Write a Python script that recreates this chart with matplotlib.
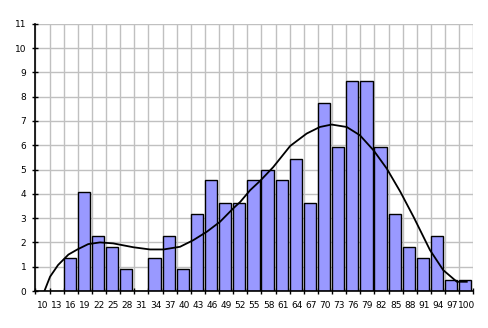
import numpy as np
import matplotlib
matplotlib.use('Agg')
import matplotlib.pyplot as plt

# histogram categories and bar heights (percent)
scores = [10, 13, 16, 19, 22, 25, 28, 31, 34, 37, 40, 43, 46, 49, 52, 55,
          58, 61, 64, 67, 70, 73, 76, 79, 82, 85, 88, 91, 94, 97, 100]
percent = [0, 0, 1.36, 4.09, 2.27, 1.82, 0.91, 0, 1.36, 2.27, 0.91, 3.18,
           4.55, 3.64, 3.64, 4.55, 5.0, 4.55, 5.45, 3.64, 7.73, 5.91, 8.64,
           8.64, 5.91, 3.18, 1.82, 1.36, 2.27, 0.45, 0.45]

# density curve
curve_x = [10.4, 11.6, 13.3, 15.5, 17.4, 19.7, 22.2, 25.0, 29.3, 32.8, 35.7,
           39.2, 42.0, 44.9, 47.7, 50.5, 52.0, 54.1, 56.2, 59.0, 62.6, 66.1,
           68.9, 71.4, 74.6, 77.4, 80.3, 83.1, 86.0, 88.8, 92.3, 95.1, 98.0,
           100.1]
curve_y = [0, 0.59, 1.07, 1.5, 1.71, 1.93, 2.0, 1.96, 1.8, 1.71, 1.71,
           1.82, 2.09, 2.44, 2.85, 3.4, 3.67, 4.15, 4.53, 5.1, 5.97, 6.48,
           6.75, 6.85, 6.75, 6.41, 5.79, 5.04, 4.08, 3.05, 1.68, 0.86, 0.38,
           0.38]

step = 3
fig = plt.figure(figsize=(4.88, 3.28), dpi=100)
ax = fig.add_axes([0.0727, 0.1128, 0.8973, 0.8149])

left_edges = [s - step / 2 for s in scores]
ax.bar(left_edges, percent, width=step * 0.86, align='edge',
       color='#9999ff', edgecolor='black', linewidth=1, zorder=2)
ax.plot(curve_x, curve_y, color='black', linewidth=1.3, zorder=3)

ax.set_xlim(scores[0] - step / 2, scores[-1] + step / 2)
ax.set_ylim(0, 11)

# labels at bin centres, grid + ticks at bin edges
ax.set_xticks(scores)
ax.set_xticklabels([str(s) for s in scores])
ax.set_xticks(left_edges + [scores[-1] + step / 2], minor=True)
ax.set_yticks(range(0, 12))
ax.tick_params(axis='x', which='major', length=0, pad=7.5, labelsize=6.5)
ax.tick_params(axis='x', which='minor', direction='inout', length=5,
               width=1, color='black')
ax.tick_params(axis='y', direction='inout', length=4.5, width=1, pad=4.3,
               labelsize=6.5)

ax.grid(False)
ax.xaxis.grid(True, which='minor', color='#c0c0c0', linewidth=1, zorder=0)
ax.yaxis.grid(True, which='major', color='#c0c0c0', linewidth=1, zorder=0)
ax.set_axisbelow(True)

for side in ['top', 'right']:
    ax.spines[side].set_visible(False)
ax.spines['left'].set_linewidth(1.2)
ax.spines['bottom'].set_linewidth(1.2)
ax.spines['left'].set_zorder(4)
ax.spines['bottom'].set_zorder(4)

fig.savefig('out.png', dpi=100)
